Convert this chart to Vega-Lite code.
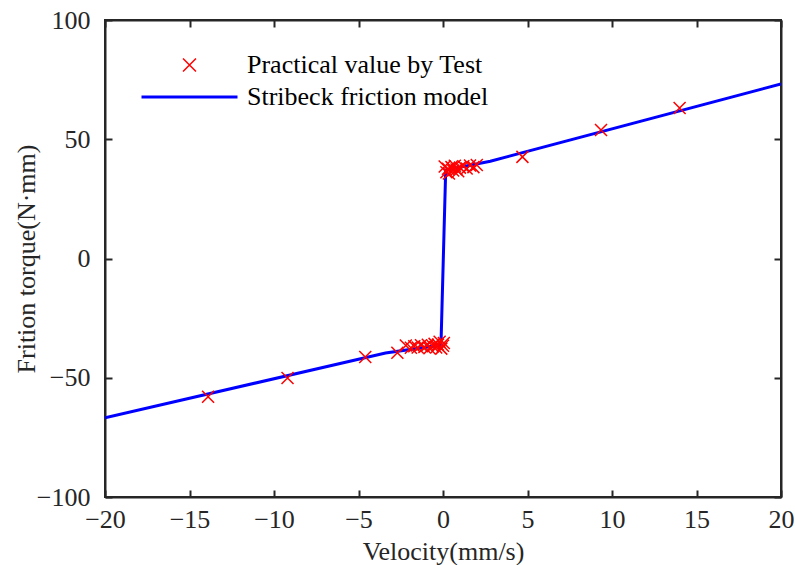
{
  "$schema": "https://vega.github.io/schema/vega-lite/v6.json",
  "width": 676,
  "height": 477,
  "autosize": {"type": "none"},
  "padding": {"left": 105, "top": 20, "right": 14, "bottom": 68},
  "background": "white",
  "config": {
    "view": {"stroke": "#262626", "strokeWidth": 2},
    "font": "Liberation Serif",
    "axis": {
      "labelFont": "Liberation Serif",
      "titleFont": "Liberation Serif",
      "labelFontSize": 26,
      "titleFontSize": 26,
      "titleFontWeight": "normal",
      "labelColor": "#262626",
      "titleColor": "#262626",
      "domainColor": "#262626",
      "tickColor": "#262626",
      "domainWidth": 2,
      "tickWidth": 2,
      "tickSize": -7,
      "labelFlush": false,
      "grid": false
    }
  },
  "resolve": {"axis": {"x": "independent", "y": "independent"}},
  "data": {
    "values": [
      {"v": -13.9, "T": -58.0, "s": "Practical value by Test"},
      {"v": -9.2, "T": -50.1, "s": "Practical value by Test"},
      {"v": -4.6, "T": -41.3, "s": "Practical value by Test"},
      {"v": -2.7, "T": -39.5, "s": "Practical value by Test"},
      {"v": -2.2, "T": -36.5, "s": "Practical value by Test"},
      {"v": -1.9, "T": -37.4, "s": "Practical value by Test"},
      {"v": -1.7, "T": -36.8, "s": "Practical value by Test"},
      {"v": -1.5, "T": -37.3, "s": "Practical value by Test"},
      {"v": -1.3, "T": -36.4, "s": "Practical value by Test"},
      {"v": -1.1, "T": -37.1, "s": "Practical value by Test"},
      {"v": -0.9, "T": -36.2, "s": "Practical value by Test"},
      {"v": -0.8, "T": -37.6, "s": "Practical value by Test"},
      {"v": -0.6, "T": -36.8, "s": "Practical value by Test"},
      {"v": -0.5, "T": -35.8, "s": "Practical value by Test"},
      {"v": -0.4, "T": -37.3, "s": "Practical value by Test"},
      {"v": -0.3, "T": -36.1, "s": "Practical value by Test"},
      {"v": -0.2, "T": -34.9, "s": "Practical value by Test"},
      {"v": -0.1, "T": -37.8, "s": "Practical value by Test"},
      {"v": 0.0, "T": -36.6, "s": "Practical value by Test"},
      {"v": 0.05, "T": -35.4, "s": "Practical value by Test"},
      {"v": 0.1, "T": 38.6, "s": "Practical value by Test"},
      {"v": 0.2, "T": 36.2, "s": "Practical value by Test"},
      {"v": 0.3, "T": 37.6, "s": "Practical value by Test"},
      {"v": 0.35, "T": 35.6, "s": "Practical value by Test"},
      {"v": 0.5, "T": 38.3, "s": "Practical value by Test"},
      {"v": 0.6, "T": 36.9, "s": "Practical value by Test"},
      {"v": 0.7, "T": 38.9, "s": "Practical value by Test"},
      {"v": 0.8, "T": 37.3, "s": "Practical value by Test"},
      {"v": 0.9, "T": 36.6, "s": "Practical value by Test"},
      {"v": 1.0, "T": 38.1, "s": "Practical value by Test"},
      {"v": 1.2, "T": 38.7, "s": "Practical value by Test"},
      {"v": 1.4, "T": 37.7, "s": "Practical value by Test"},
      {"v": 1.6, "T": 39.0, "s": "Practical value by Test"},
      {"v": 1.8, "T": 38.3, "s": "Practical value by Test"},
      {"v": 2.0, "T": 39.2, "s": "Practical value by Test"},
      {"v": 4.7, "T": 42.6, "s": "Practical value by Test"},
      {"v": 9.35, "T": 53.9, "s": "Practical value by Test"},
      {"v": 14.0, "T": 63.1, "s": "Practical value by Test"},
      {"v": -20, "T": -66.8, "s": "Stribeck friction model", "i": 1},
      {"v": -3.4, "T": -39.6, "s": "Stribeck friction model", "i": 2},
      {"v": -0.12, "T": -36.3, "s": "Stribeck friction model", "i": 3},
      {"v": 0.16, "T": 37.1, "s": "Stribeck friction model", "i": 4},
      {"v": 2.8, "T": 40.8, "s": "Stribeck friction model", "i": 5},
      {"v": 20, "T": 73.2, "s": "Stribeck friction model", "i": 6}
    ]
  },
  "layer": [
    {
      "transform": [{"filter": "datum.s == 'Stribeck friction model'"}],
      "mark": {"type": "line", "strokeWidth": 3, "clip": true},
      "encoding": {
        "x": {"field": "v", "type": "quantitative", "scale": {"domain": [-20, 20], "nice": false},
              "axis": {"orient": "bottom", "values": [-20, -15, -10, -5, 0, 5, 10, 15, 20], "labelPadding": 16, "title": "Velocity(mm/s)", "titlePadding": 6}},
        "y": {"field": "T", "type": "quantitative", "scale": {"domain": [-100, 100], "nice": false},
              "axis": {"orient": "left", "values": [-100, -50, 0, 50, 100], "labelPadding": 22, "title": "Frition torque(N·mm)", "titlePadding": -3}},
        "order": {"field": "i", "type": "quantitative"},
        "color": {"field": "s", "type": "nominal",
          "scale": {"domain": ["Practical value by Test", "Stribeck friction model"], "range": ["#FF0000", "#0000FF"]},
          "legend": {
            "title": null,
            "orient": "none",
            "legendX": 71.5,
            "legendY": 32,
            "padding": 0,
            "labelFont": "Liberation Serif",
            "labelFontSize": 26,
            "labelColor": "#000000",
            "labelOffset": 44.5,
            "rowPadding": 6,
            "symbolSize": 576,
            "labelLimit": 400,
            "encode": {
              "symbols": {
                "update": {
                  "shape": {"signal": "datum.value == 'Stribeck friction model' ? 'M-4,0L4,0' : 'M-0.54,-0.54L0.54,0.54M0.54,-0.54L-0.54,0.54'"},
                  "strokeWidth": {"signal": "datum.value == 'Stribeck friction model' ? 3 : 1.5"},
                  "stroke": {"signal": "datum.value == 'Stribeck friction model' ? '#0000FF' : '#FF0000'"},
                  "fill": {"value": "transparent"},
                  "size": {"value": 576},
                  "opacity": {"value": 1}
                }
              }
            }
          }}
      }
    },
    {
      "transform": [{"filter": "datum.s == 'Practical value by Test'"}],
      "mark": {"type": "point", "filled": false, "shape": "M-1,-1L1,1M1,-1L-1,1", "size": 144, "strokeWidth": 1.5, "opacity": 1},
      "encoding": {
        "x": {"field": "v", "type": "quantitative", "axis": {"orient": "top", "values": [-20, -15, -10, -5, 0, 5, 10, 15, 20], "labels": false, "title": null}},
        "y": {"field": "T", "type": "quantitative", "axis": {"orient": "right", "values": [-100, -50, 0, 50, 100], "labels": false, "title": null}},
        "color": {"field": "s", "type": "nominal"}
      }
    }
  ]
}
